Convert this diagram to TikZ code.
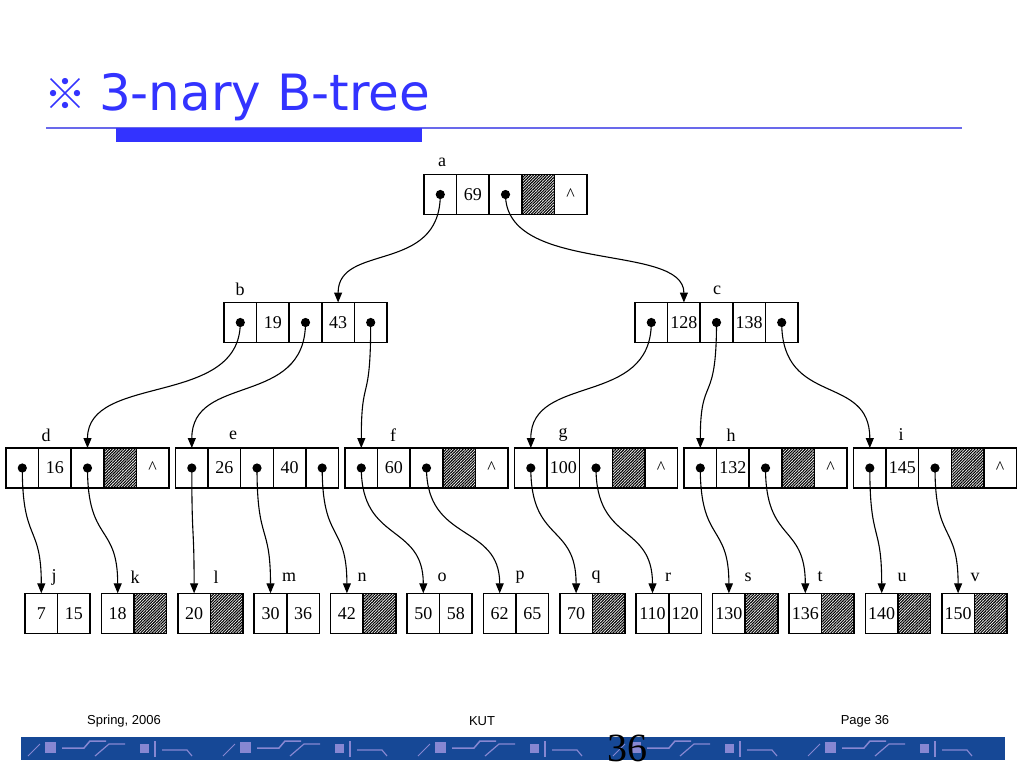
\documentclass[tikz,border=0pt]{standalone}
\usepackage{fontspec}
\setmainfont{Liberation Serif}
\newfontfamily\titlefont{DejaVu Sans}
\newfontfamily\footfont{Liberation Sans}
\newfontfamily\markfont{Noto Sans CJK KR}
\usetikzlibrary{arrows.meta,patterns.meta,positioning}
\definecolor{titleblue}{RGB}{51,51,255}
\definecolor{ruleblue}{RGB}{105,105,235}
\definecolor{banddark}{RGB}{22,72,150}
\definecolor{bandlight}{RGB}{135,135,210}
\tikzset{
  cell/.style={draw, line width=1.5pt, minimum width=32.6pt, minimum height=40pt,
    font=\fontsize{18}{20}\selectfont},
  ptr/.style={cell, path picture={\fill (path picture bounding box.center) circle (4.6pt);}},
  hatch/.style={cell, pattern={Lines[angle=45,distance=2pt,line width=1.1pt]}},
  lbl/.style={font=\fontsize{18}{20}\selectfont},
  link/.style={line width=1.1pt, -{Triangle[length=10pt,width=8pt]}},
  foot/.style={font=\footfont\fontsize{13}{15}\selectfont},
}
% one b-tree node: name, left x, centre y, cells
\newcommand{\btnode}[4]{%
  \foreach \s/\t [count=\i] in {#4}
    \node[\s] (#1-\i) at ({#2+32.6*\i-16.3},#3) {\t};}

\begin{document}
\begin{tikzpicture}[x=1pt, y=1pt, yscale=-1, inner sep=0pt, outer sep=0pt]
\useasboundingbox (0,0) rectangle (1024,768);

% title and rules
\node[anchor=west, text=titleblue, font=\markfont\fontsize{42}{46}\selectfont] (mark) at (44,94) {※};
\node[anchor=base west, text=titleblue, font=\titlefont\fontsize{50}{56}\selectfont] (title) at (99,110) {3-nary B-tree};
\draw[ruleblue, line width=1.2pt] (46,128) -- (962,128);
\fill[titleblue] (116,128) rectangle (422,141.5);

% root
\btnode{a}{424}{194.5}{ptr/{},cell/69,ptr/{},hatch/{},cell/\textasciicircum}
\node[lbl] (la) at (442,162) {a};

% second level
\btnode{b}{224}{322.5}{ptr/{},cell/19,ptr/{},cell/43,ptr/{}}
\btnode{c}{635}{322.5}{ptr/{},cell/128,ptr/{},cell/138,ptr/{}}
\node[lbl] (lb) at (240,289) {b};
\node[lbl] (lc) at (717,290) {c};

% third level
\btnode{d}{6}{468}{ptr/{},cell/16,ptr/{},hatch/{},cell/\textasciicircum}
\btnode{e}{175.5}{468}{ptr/{},cell/26,ptr/{},cell/40,ptr/{}}
\btnode{f}{345}{468}{ptr/{},cell/60,ptr/{},hatch/{},cell/\textasciicircum}
\btnode{g}{514.5}{468}{ptr/{},cell/100,ptr/{},hatch/{},cell/\textasciicircum}
\btnode{h}{684}{468}{ptr/{},cell/132,ptr/{},hatch/{},cell/\textasciicircum}
\btnode{i}{853.5}{468}{ptr/{},cell/145,ptr/{},hatch/{},cell/\textasciicircum}
\foreach \n/\x in {d/46,e/233,f/393,g/563,h/731,i/901}
  \node[lbl] (l\n) at (\x,435) {\n};

% leaves
\foreach \n/\p/\q [count=\k from 0] in {j/7/15,k/18/,l/20/,m/30/36,n/42/,o/50/58,p/62/65,
    q/70/,r/110/120,s/130/,t/136/,u/140/,v/150/} {
  \node[cell] (\n-1) at ({41.3+76.4*\k},613.3) {\p};
  \ifx\q\empty
    \node[hatch, right=0pt of \n-1] (\n-2) {};
  \else
    \node[cell, right=0pt of \n-1] (\n-2) {\q};
  \fi
}
\foreach \n/\x in {j/54,k/135,l/216,m/289,n/362,o/442,p/520,q/596,r/668,s/748,t/820,u/902,v/975}
  \node[lbl] (l\n) at (\x,577) {\n};

% links
\draw[link] (a-1.center) .. controls +(0,80) and +(0,-60) .. (b-4.north);
\draw[link] (a-3.center) .. controls +(0,80) and +(0,-60) .. (c-2.north);
\foreach \p/\q in {b-1/d-3,b-3/e-1,b-5/f-1,c-1/g-1,c-3/h-1,c-5/i-1}
  \draw[link] (\p.center) .. controls +(0,85) and +(0,-75) .. (\q.north);
\foreach \p/\q in {d-1/j-1,d-3/k-1,e-1/l-1,e-3/m-1,e-5/n-1,f-1/o-1,f-3/p-1,
    g-1/q-1,g-3/r-1,h-1/s-1,h-3/t-1,i-1/u-1,i-3/v-1}
  \draw[link] (\p.center) .. controls +(0,75) and +(0,-70) .. (\q.north);

% footer
\node[foot] (spring) at (124,721) {Spring, 2006};
\node[foot] (kut) at (482,721) {KUT};
\node[foot] (page) at (865,721) {Page 36};
\fill[banddark] (21,737) rectangle (1005,760);
\foreach \x in {0,195,390,585,780} {
  \fill[bandlight] ({45+\x},742) rectangle +(11,11);
  \fill[bandlight] ({140+\x},744) rectangle +(9,9);
  \draw[bandlight, line width=1.5pt] ({62+\x},748) -- +(22,0) -- +(28,-7) -- +(44,-7);
  \draw[bandlight, line width=1.2pt] ({95+\x},756) -- +(14,-12) -- +(30,-12);
  \draw[bandlight, line width=1.2pt] ({155+\x},741) -- +(0,16);
  \draw[bandlight, line width=1.2pt] ({162+\x},750) -- +(25,0) -- +(30,6);
  \draw[bandlight, line width=1pt] ({28+\x},756) -- +(12,-12);
}
\node[font=\fontsize{40}{40}\selectfont] (num) at (627,748) {36};
\end{tikzpicture}
\end{document}
